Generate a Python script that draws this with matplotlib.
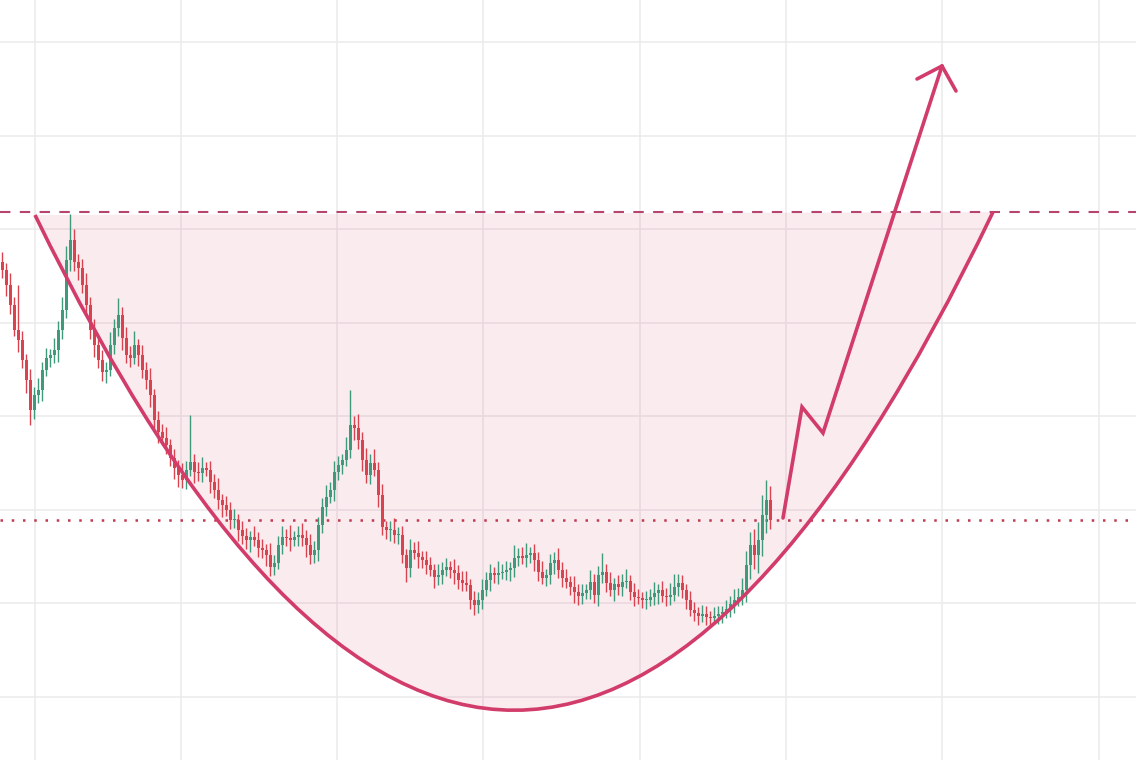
import numpy as np
import matplotlib
matplotlib.use("Agg")
import matplotlib.pyplot as plt
from matplotlib.path import Path
from matplotlib.patches import PathPatch

# closing prices (cents), one candle per bar
closes = [
    490, 475, 455, 430, 420, 400, 380, 350, 365, 370,
    390, 402, 405, 410, 430, 450, 500, 520, 498, 492,
    475, 455, 430, 415, 400, 388, 390, 415, 432, 445,
    422, 405, 402, 415, 405, 390, 380, 365, 340, 328,
    322, 315, 302, 292, 285, 280, 290, 298, 288, 287,
    292, 290, 278, 270, 260, 255, 250, 240, 240, 230,
    224, 220, 223, 220, 212, 210, 205, 193, 197, 215,
    223, 222, 220, 223, 225, 222, 215, 205, 210, 235,
    253, 263, 270, 288, 295, 300, 310, 335, 332, 320,
    300, 285, 297, 290, 265, 233, 230, 230, 225, 225,
    205, 192, 210, 207, 203, 200, 195, 190, 183, 185,
    190, 193, 190, 187, 180, 177, 175, 160, 155, 160,
    170, 180, 187, 185, 187, 188, 190, 192, 202, 204,
    202, 205, 207, 200, 188, 182, 185, 197, 200, 190,
    182, 178, 173, 168, 164, 167, 170, 178, 165, 185,
    188, 177, 170, 176, 173, 178, 179, 168, 163, 162,
    160, 160, 163, 167, 170, 164, 163, 165, 173, 177,
    170, 160, 150, 147, 144, 146, 143, 142, 144, 146,
    148, 151, 156, 160, 163, 170, 195, 215, 205, 220,
    245, 260, 240,
]
first_open = 498

wick_up = [
    10, 7, 12, 8, 45, 9, 6, 11, 8, 12,
    8, 10, 6, 12, 9, 13, 14, 26, 11, 8,
    9, 12, 8, 11, 6, 10, 8, 13, 9, 17,
    8, 11, 9, 14, 6, 10, 8, 12, 6, 9,
    8, 11, 6, 9, 8, 12, 9, 47, 8, 10,
    11, 6, 9, 8, 12, 6, 9, 8, 11, 6,
    9, 8, 6, 11, 8, 9, 6, 12, 8, 9,
    11, 8, 13, 6, 9, 12, 8, 11, 9, 8,
    9, 12, 8, 11, 9, 6, 13, 35, 9, 14,
    8, 12, 9, 14, 8, 11, 6, 9, 12, 8,
    9, 6, 11, 8, 12, 6, 9, 8, 6, 11,
    8, 9, 6, 11, 8, 9, 12, 6, 9, 8,
    11, 8, 9, 6, 12, 8, 9, 6, 13, 8,
    9, 12, 6, 9, 8, 11, 6, 9, 8, 12,
    8, 9, 6, 11, 8, 9, 6, 12, 8, 9,
    19, 8, 11, 6, 9, 8, 12, 6, 9, 8,
    6, 9, 8, 11, 6, 9, 8, 12, 13, 9,
    8, 6, 9, 8, 6, 9, 8, 6, 9, 8,
    6, 9, 8, 11, 9, 12, 14, 13, 16, 18,
    20, 20, 14,
]

wick_dn = [
    8, 11, 9, 6, 12, 8, 13, 15, 9, 8,
    11, 6, 9, 8, 12, 9, 8, 11, 9, 12,
    8, 11, 9, 12, 8, 9, 11, 6, 9, 8,
    12, 8, 9, 6, 11, 8, 9, 12, 8, 11,
    6, 9, 8, 11, 12, 8, 9, 6, 11, 8,
    9, 6, 11, 8, 9, 12, 6, 9, 8, 11,
    8, 9, 12, 6, 9, 8, 11, 9, 8, 6,
    9, 8, 11, 6, 9, 8, 12, 9, 8, 11,
    8, 9, 6, 11, 8, 9, 6, 8, 12, 9,
    11, 8, 9, 6, 12, 8, 9, 11, 8, 9,
    8, 14, 9, 6, 11, 8, 9, 6, 11, 8,
    9, 6, 8, 11, 9, 8, 6, 9, 10, 8,
    9, 6, 11, 8, 9, 6, 8, 11, 9, 8,
    6, 9, 8, 11, 9, 6, 8, 9, 11, 8,
    9, 6, 8, 11, 9, 8, 6, 9, 8, 11,
    8, 9, 6, 11, 8, 9, 6, 8, 9, 6,
    8, 9, 6, 8, 11, 6, 9, 8, 6, 9,
    8, 9, 6, 8, 9, 6, 8, 9, 6, 8,
    9, 6, 8, 9, 6, 8, 12, 14, 14, 18,
    16, 18, 9,
]

# chart levels and pattern drawing (bar index, price)
resistance = 5.48
breakout = 2.40
cup_start = (8.25, 5.45)
cup_ctrl = (128.5, -4.47)
cup_end = (247.75, 5.48)
arrow_x = [195.25, 200.0, 205.25, 235.0]
arrow_y = [2.42, 3.53, 3.27, 6.94]
head_left = (228.75, 6.81)
head_right = (238.5, 6.69)

vgrid = [8.25, 44.75, 83.75, 120.25, 159.5, 196.0, 235.0, 274.25]
hgrid = [7.18, 6.245, 5.31, 4.375, 3.44, 2.505, 1.57, 0.635]

up_col = '#3f9a7c'
dn_col = '#d9434f'
pink = '#d23c6b'

c = np.array(closes) / 100
o = np.concatenate([[first_open / 100], c[:-1]])
hi = np.maximum(o, c) + np.array(wick_up) / 100
lo = np.minimum(o, c) - np.array(wick_dn) / 100
x = np.arange(len(c))

fig = plt.figure(figsize=(11.36, 7.6), dpi=100)
ax = fig.add_axes([0, 0, 1, 1])
ax.set_xlim(-0.5, 283.5)
ax.set_ylim(0, 7.6)
ax.axis('off')

for gx in vgrid:
    ax.axvline(gx, color='#ebebeb', lw=1.1, zorder=0)
for gy in hgrid:
    ax.axhline(gy, color='#ebebeb', lw=1.1, zorder=0)

# cup shading and outline
verts = [cup_start, cup_ctrl, cup_end, cup_start]
codes = [Path.MOVETO, Path.CURVE3, Path.CURVE3, Path.LINETO]
fill = PathPatch(Path(verts, codes), facecolor=pink, alpha=0.1, edgecolor='none', zorder=1)
ax.add_patch(fill)
cup = PathPatch(Path(verts[:3], codes[:3]), facecolor='none', edgecolor=pink, lw=2.6, zorder=5)
ax.add_patch(cup)

ax.axhline(resistance, color='#b5446e', lw=1.5, ls=(0, (5, 4.5)), zorder=2)
ax.axhline(breakout, color='#c0394f', lw=1.8, ls=(0, (1, 3.5)), zorder=2)

# candles
cols = np.where(c >= o, up_col, dn_col)
ax.vlines(x, lo, hi, colors=cols, lw=1.0, zorder=3)
body_h = np.maximum(np.abs(c - o), 0.01)
ax.bar(x, body_h, bottom=np.minimum(o, c), width=0.75, color=cols, lw=0, zorder=3)

# breakout arrow
ax.plot(arrow_x, arrow_y, color=pink, lw=2.6, solid_capstyle='round', solid_joinstyle='miter', zorder=6)
tip = (arrow_x[-1], arrow_y[-1])
for hp in (head_left, head_right):
    ax.plot([hp[0], tip[0]], [hp[1], tip[1]], color=pink, lw=2.6, solid_capstyle='round', zorder=6)

fig.savefig('out.png', dpi=100)
